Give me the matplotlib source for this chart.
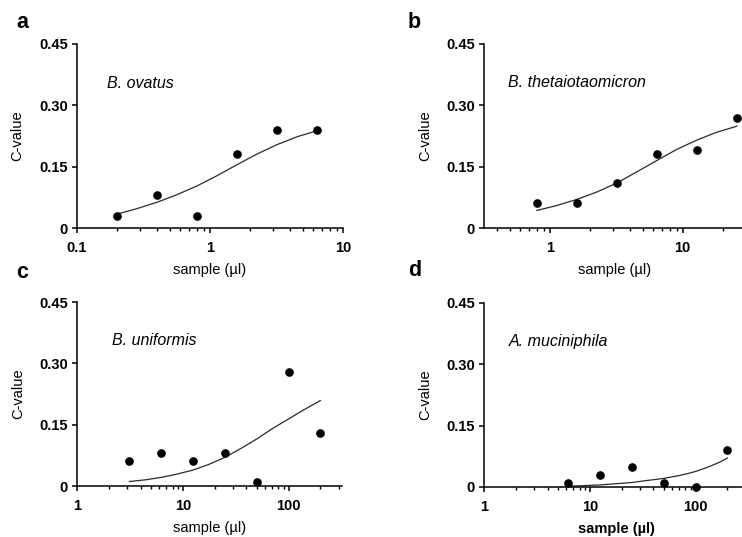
import matplotlib
matplotlib.use('Agg')
import matplotlib.pyplot as plt
from matplotlib.ticker import LogLocator, FixedLocator, FixedFormatter, NullFormatter

plt.rcParams['font.family'] = ['Liberation Sans', 'DejaVu Sans']

# ---- data ----
species = ['B. ovatus', 'B. thetaiotaomicron', 'B. uniformis', 'A. muciniphila']
letters = ['a', 'b', 'c', 'd']

a_x = [0.2, 0.4, 0.8, 1.6, 3.2, 6.4]
a_y = [0.03, 0.08, 0.03, 0.18, 0.24, 0.24]
a_fit_x = [0.2, 0.28, 0.4, 0.56, 0.8, 1.13, 1.6, 2.26, 3.2, 4.5, 6.4]
a_fit_y = [0.034, 0.047, 0.063, 0.081, 0.103, 0.128, 0.155, 0.181, 0.204, 0.223, 0.238]

b_x = [0.8, 1.6, 3.2, 6.4, 12.8, 25.6]
b_y = [0.06, 0.06, 0.11, 0.18, 0.19, 0.27]
b_fit_x = [0.8, 1.13, 1.6, 2.26, 3.2, 4.5, 6.4, 9.0, 12.8, 18.0, 25.6]
b_fit_y = [0.043, 0.055, 0.070, 0.088, 0.110, 0.137, 0.165, 0.192, 0.215, 0.234, 0.249]

c_x = [3.125, 6.25, 12.5, 25, 50, 100, 200]
c_y = [0.06, 0.08, 0.06, 0.08, 0.01, 0.28, 0.13]
c_fit_x = [3.125, 4.4, 6.25, 8.8, 12.5, 17.7, 25, 35, 50, 70, 100, 141, 200]
c_fit_y = [0.011, 0.015, 0.021, 0.029, 0.039, 0.053, 0.070, 0.091, 0.115, 0.140, 0.164, 0.187, 0.209]

d_x = [6.25, 12.5, 25, 50, 100, 200]
d_y = [0.01, 0.03, 0.05, 0.01, 0.0, 0.09]
d_fit_x = [6.5, 12.5, 25, 35, 50, 70, 85, 100, 120, 141, 170, 200]
d_fit_y = [0.002, 0.005, 0.011, 0.016, 0.021, 0.028, 0.033, 0.038, 0.045, 0.052, 0.061, 0.071]

xlims = [(0.1, 10), (0.32, 30), (1, 320), (1, 320)]
major_x = [[0.1, 1, 10], [1, 10], [1, 10, 100], [1, 10, 100]]
major_lbl = [['0.1', '1', '10'], ['1', '10'], ['1', '10', '100'], ['1', '10', '100']]
y_ticks = [0, 0.15, 0.30, 0.45]
y_lbl = ['0', '0.15', '0.30', '0.45']

# panel boxes in pixels: left, top, right, bottom
boxes = [(77, 44, 343, 228), (484, 44, 746, 228), (77, 302, 342, 486), (484, 303, 749, 487)]
letter_pos = [(22, 23), (414, 22), (22, 272), (415, 270)]
label_pos = [(0.113, 0.788), (0.092, 0.793), (0.132, 0.793), (0.094, 0.793)]

W, H = 742, 537
fig = plt.figure(figsize=(W / 100, H / 100), dpi=100)

panels = [(a_x, a_y, a_fit_x, a_fit_y), (b_x, b_y, b_fit_x, b_fit_y),
          (c_x, c_y, c_fit_x, c_fit_y), (d_x, d_y, d_fit_x, d_fit_y)]

for i, (px, py, fx, fy) in enumerate(panels):
    l, t, r, b = boxes[i]
    ax = fig.add_axes([l / W, 1 - b / H, (r - l) / W, (b - t) / H])
    ax.plot(fx, fy, '-', color='#2a2a2a', lw=0.9, zorder=2, solid_joinstyle='round')
    ax.plot(px, py, 'o', color='black', ms=5.2, clip_on=False, zorder=5)
    ax.set_xscale('log')
    ax.set_xlim(*xlims[i])
    ax.set_ylim(0, 0.45)

    ax.xaxis.set_major_locator(FixedLocator(major_x[i]))
    ax.xaxis.set_major_formatter(FixedFormatter(major_lbl[i]))
    ax.xaxis.set_minor_locator(LogLocator(base=10, subs=range(2, 10)))
    ax.xaxis.set_minor_formatter(NullFormatter())
    ax.set_yticks(y_ticks)
    ax.set_yticklabels(y_lbl)

    for s in ['top', 'right']:
        ax.spines[s].set_visible(False)
    for s in ['left', 'bottom']:
        ax.spines[s].set_linewidth(1.1)
    ax.tick_params(which='major', length=3.6, width=1.1, labelsize=10.5, color='black')
    ax.tick_params(which='minor', length=2.4, width=1.0)
    ax.tick_params(axis='x', which='major', pad=5.5)
    ax.tick_params(axis='y', which='major', pad=3)
    for lab in ax.get_xticklabels() + ax.get_yticklabels():
        lab.set_fontweight('bold')

    ax.set_ylabel('C-value', fontsize=10.5)
    ax.yaxis.set_label_coords(-0.197, 0.5)
    ax.set_xlabel('sample (µl)', fontsize=10.5,
                  fontweight='bold' if i == 3 else 'normal')
    ax.xaxis.set_label_coords(0.5, -0.19)

    ax.text(label_pos[i][0], label_pos[i][1], species[i], transform=ax.transAxes,
            fontsize=11.5, style='italic', ha='left', va='center')

    fig.text(letter_pos[i][0] / W, 1 - letter_pos[i][1] / H, letters[i],
             fontsize=15.5, fontweight='bold', ha='center', va='center')

plt.savefig('out.png', dpi=100)
